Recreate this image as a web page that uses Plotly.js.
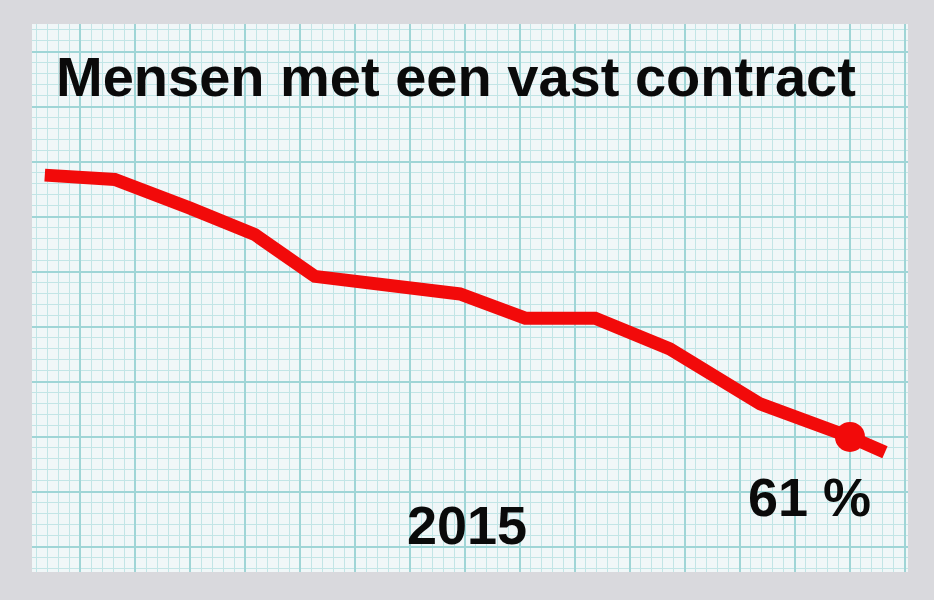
<!DOCTYPE html>
<html>
<head>
<meta charset="utf-8">
<script src="https://cdn.plot.ly/plotly-3.0.1.min.js"></script>
<style>html,body{margin:0;padding:0;background:#d9d9dd;}</style>
</head>
<body>
<div id="chart" style="width:934px;height:600px;"></div>
<script>
// Positions along the time axis (years) and share with a permanent contract (%)
const years = [2002.80, 2003.86, 2005.00, 2005.98, 2006.89, 2007.95, 2009.09, 2010.08, 2011.14, 2012.27, 2013.64, 2015.00, 2015.53];
const share = [72.9, 72.7, 71.4, 70.2, 68.3, 67.9, 67.5, 66.4, 66.4, 65.0, 62.5, 61.0, 60.3];
const highlightYear = [2015.00];
const highlightShare = [61.0];
const titleText = "Mensen met een vast contract";
const yearLabel = "2015";
const valueLabel = "61 %";

const traces = [
  {x: years, y: share, type: 'scatter', mode: 'lines',
   line: {color: '#f20a0a', width: 13, shape: 'linear'}, hoverinfo: 'skip'},
  {x: highlightYear, y: highlightShare, type: 'scatter', mode: 'markers',
   marker: {color: '#f20a0a', size: 30}, hoverinfo: 'skip'}
];

const fontFam = 'Liberation Sans, Arial, sans-serif';

const layout = {
  width: 934, height: 600,
  margin: {l: 32, r: 26, t: 24, b: 28},
  paper_bgcolor: '#d9d9dd',
  plot_bgcolor: '#f0f7f8',
  showlegend: false,
  xaxis: {range: [2002.606, 2015.879], tick0: 2015, dtick: 5/6,
          showgrid: true, gridcolor: '#9fd5d6', gridwidth: 1.5,
          minor: {tick0: 2015, dtick: 1/6, showgrid: true, gridcolor: '#c2e5e6', gridwidth: 1},
          zeroline: false, showticklabels: false, ticks: '', showline: false, fixedrange: true},
  yaxis: {range: [54.86, 79.77], tick0: 61, dtick: 2.5,
          showgrid: true, gridcolor: '#9fd5d6', gridwidth: 1.5,
          minor: {tick0: 61, dtick: 0.5, showgrid: true, gridcolor: '#c2e5e6', gridwidth: 1},
          zeroline: false, showticklabels: false, ticks: '', showline: false, fixedrange: true},
  annotations: [
    {text: '<b>' + titleText + '</b>', xref: 'paper', yref: 'paper', x: 0.484, y: 0.905,
     xanchor: 'center', yanchor: 'middle', showarrow: false,
     font: {family: fontFam, size: 56, color: '#0a0a0a'}},
    {text: '<b>' + yearLabel + '</b>', xref: 'paper', yref: 'paper', x: 0.4966, y: 0.0858,
     xanchor: 'center', yanchor: 'middle', showarrow: false,
     font: {family: fontFam, size: 54, color: '#0a0a0a'}},
    {text: '<b>' + valueLabel + '</b>', xref: 'paper', yref: 'paper', x: 0.888, y: 0.137,
     xanchor: 'center', yanchor: 'middle', showarrow: false,
     font: {family: fontFam, size: 54, color: '#0a0a0a'}}
  ]
};

Plotly.newPlot('chart', traces, layout, {displayModeBar: false, staticPlot: true});
</script>
</body>
</html>
